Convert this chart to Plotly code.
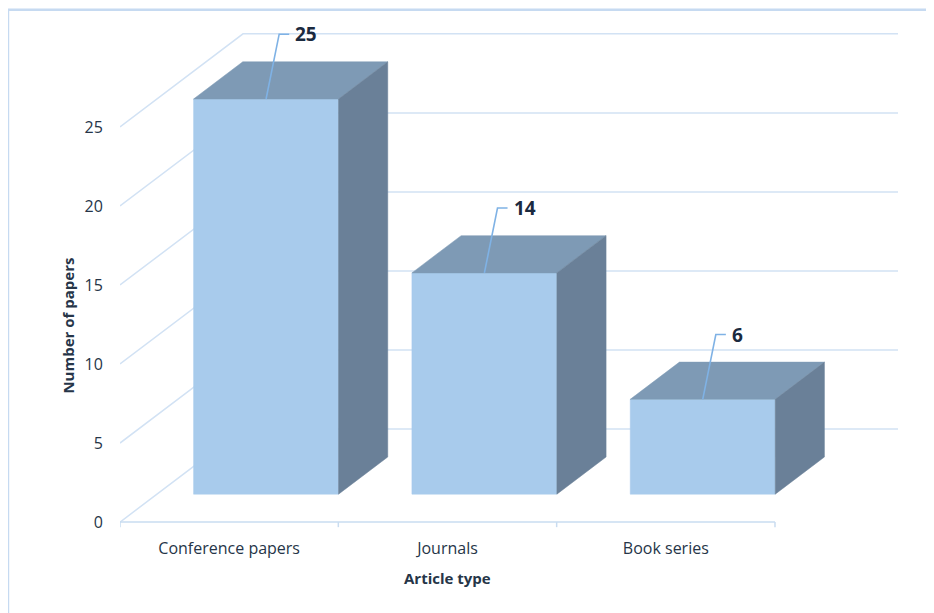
import plotly.graph_objects as go

# ---- data ----
categories = ["Conference papers", "Journals", "Book series"]
papers = [25, 14, 6]
y_ticks = [0, 5, 10, 15, 20, 25]
x_title = "Article type"
y_title = "Number of papers"

# ---- 3D oblique projection parameters (data units) ----
DXT = 0.5634   # total depth shift along x (category units)
DYT = 5.886    # total depth shift along y (value units)
F0, F1 = 0.3, 0.7   # bar front / back depth fractions
HW = 0.332     # half bar width

GRID = "#D2E2F4"
AXIS = "#C9DCF0"
FRONT = "#A8CBEC"
TOP = "#7E9AB5"
SIDE = "#6A8098"
LEADER = "#7FB2E5"
TXT = "#263548"
FONT = "Open Sans"

fig = go.Figure()

def line(xs, ys, color, width):
    fig.add_trace(go.Scatter(x=xs, y=ys, mode="lines", line=dict(color=color, width=width),
                             hoverinfo="skip", showlegend=False))

n = len(categories)

# side wall + back wall gridlines
for v in y_ticks:
    line([-0.5, -0.5 + DXT, n - 0.5 + DXT], [v, v + DYT, v + DYT], GRID, 1.5)

# front floor axis line with boundary ticks
line([-0.5, n - 0.5], [0, 0], AXIS, 1.5)
for b in range(n + 1):
    line([b - 0.5, b - 0.5], [0, -0.32], AXIS, 1.5)

# bars (front, top, side faces)
d = (F1 - F0) * DXT
e = (F1 - F0) * DYT
for i, v in enumerate(papers):
    x0 = i - HW + F0 * DXT
    x1 = i + HW + F0 * DXT
    yb = F0 * DYT
    yt = v + F0 * DYT
    faces = [
        ([x0, x1, x1, x0, x0], [yb, yb, yt, yt, yb], FRONT),
        ([x0, x1, x1 + d, x0 + d, x0], [yt, yt, yt + e, yt + e, yt], TOP),
        ([x1, x1 + d, x1 + d, x1, x1], [yb, yb + e, yt + e, yt, yb], SIDE),
    ]
    for xs, ys, c in faces:
        fig.add_trace(go.Scatter(x=xs, y=ys, mode="lines", fill="toself", fillcolor=c,
                                 line=dict(color=c, width=0.5), hoverinfo="skip",
                                 showlegend=False))

# leader lines and data labels
for i, v in enumerate(papers):
    cx = i + F0 * DXT
    yt = v + F0 * DYT
    lx = cx + 0.06
    ly = yt + 4.1
    line([cx, lx, lx + 0.046], [yt, ly, ly], LEADER, 1.6)
    fig.add_annotation(x=lx + 0.046, y=ly, xref="x", yref="y", text=f"<b>{v}</b>",
                       showarrow=False, xanchor="left", yanchor="middle", xshift=4,
                       font=dict(family=FONT, size=19, color="#1B2A3F"))

# axis titles
fig.add_annotation(x=1, y=-0.095, xref="x", yref="paper", text=f"<b>{x_title}</b>",
                   showarrow=False, xanchor="center", yanchor="middle",
                   font=dict(family=FONT, size=15, color=TXT))
fig.add_annotation(x=-0.0668, y=0.4016, xref="paper", yref="paper", text=f"<b>{y_title}</b>",
                   showarrow=False, textangle=-90, xanchor="center", yanchor="middle",
                   font=dict(family=FONT, size=15, color=TXT))

# outer chart border
fig.add_shape(type="rect", xref="paper", yref="paper", x0=-0.144, y0=-0.4, x1=1.3, y1=1.022,
              line=dict(color="#C6DAF1", width=2.5), layer="below")

fig.update_layout(
    width=934, height=613,
    margin=dict(l=112, r=44, t=13, b=91),
    plot_bgcolor="white", paper_bgcolor="white",
    showlegend=False,
    font=dict(family=FONT, color=TXT),
    xaxis=dict(range=[-0.5, n - 0.5 + DXT], tickvals=list(range(n)), ticktext=categories,
               showgrid=False, zeroline=False, showline=False, ticks="outside", ticklen=4,
               tickcolor="rgba(0,0,0,0)", tickfont=dict(family=FONT, size=16, color=TXT),
               fixedrange=True),
    yaxis=dict(range=[-0.5, 31.7], tickvals=y_ticks, showgrid=False, zeroline=False,
               showline=False, ticks="outside", ticklen=13, tickcolor="rgba(0,0,0,0)",
               tickfont=dict(family=FONT, size=16, color=TXT), fixedrange=True),
)

fig.write_html("out.html")
